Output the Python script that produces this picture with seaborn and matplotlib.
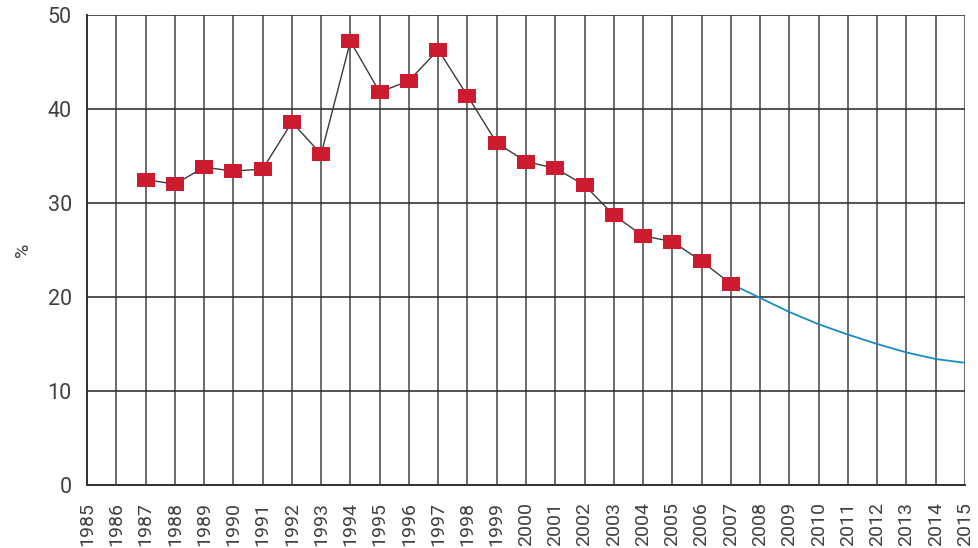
import matplotlib
matplotlib.use("Agg")
import matplotlib.pyplot as plt
import seaborn as sns
import pandas as pd

# Observed share (%) by year
years_obs = [1987, 1988, 1989, 1990, 1991, 1992, 1993, 1994, 1995, 1996, 1997,
             1998, 1999, 2000, 2001, 2002, 2003, 2004, 2005, 2006, 2007]
values_obs = [32.5, 32.0, 33.8, 33.4, 33.6, 38.6, 35.2, 47.2, 41.8, 43.0, 46.3,
              41.4, 36.4, 34.4, 33.7, 31.9, 28.7, 26.5, 25.9, 23.8, 21.4]

# Projected share (%)
years_proj = [2007, 2008, 2009, 2010, 2011, 2012, 2013, 2014, 2015]
values_proj = [21.4, 19.9, 18.4, 17.1, 16.0, 15.0, 14.1, 13.4, 13.0]

year_ticks = list(range(1985, 2016))
y_ticks = [0, 10, 20, 30, 40, 50]

sns.set_theme(style="white")
plt.rcParams["font.family"] = ["Roboto", "DejaVu Sans"]

fig = plt.figure(figsize=(9.79, 5.48), dpi=100)
ax = fig.add_axes([0.0889, 0.115, 0.8968, 0.8576])

obs = pd.DataFrame({"year": years_obs, "value": values_obs})
proj = pd.DataFrame({"year": years_proj, "value": values_proj})

sns.lineplot(data=proj, x="year", y="value", ax=ax, color="#1a8cc4",
             linewidth=1.3, zorder=3)
sns.lineplot(data=obs, x="year", y="value", ax=ax, color="#3a3a3a",
             linewidth=1.0, zorder=4,
             marker=[(-1.3, -1), (1.3, -1), (1.3, 1), (-1.3, 1)],
             markersize=12.5, markerfacecolor="#cc1a2e",
             markeredgecolor="#cc1a2e", markeredgewidth=0)

ax.set_xlim(1985, 2015)
ax.set_ylim(0, 50)
ax.set_xticks(year_ticks)
ax.set_xticklabels([str(y) for y in year_ticks], rotation=90,
                   fontsize=14, color="#404040")
ax.set_yticks(y_ticks)
ax.set_yticklabels([str(v) for v in y_ticks], fontsize=15.5,
                   color="#404040")
ax.tick_params(axis="x", length=0, pad=12)
ax.tick_params(axis="y", length=0, pad=11)

ax.grid(True, axis="x", color="#6a6a6a", linewidth=1.4)
ax.grid(True, axis="y", color="#333333", linewidth=1.2)
ax.set_axisbelow(True)

for side in ["top", "right"]:
    ax.spines[side].set_visible(False)
for side in ["left", "bottom"]:
    ax.spines[side].set_color("#333333")
    ax.spines[side].set_linewidth(1.4)

ax.set_xlabel("")
ax.set_ylabel("%", fontsize=14, color="#404040", labelpad=11)

fig.savefig("out.png", dpi=100)
